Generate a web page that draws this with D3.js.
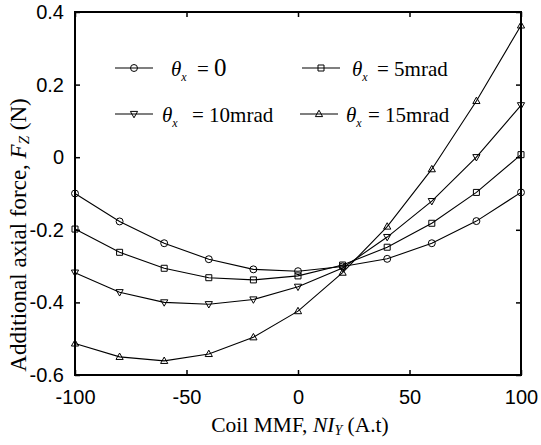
<!DOCTYPE html>
<html>
<head>
<meta charset="utf-8">
<script src="https://cdn.jsdelivr.net/npm/d3@7"></script>
<style>
  html, body { margin: 0; padding: 0; background: #fff; }
  svg { display: block; }
  .tick text { font-family: "Liberation Sans", Arial, sans-serif; font-size: 20px; fill: #000; }
  .serif { font-family: "Liberation Serif", "Times New Roman", serif; fill: #000; }
</style>
</head>
<body>
<svg id="chart" width="541" height="445"></svg>
<script>
// Coil MMF (A.t)
const mmf = [-100, -80, -60, -40, -20, 0, 20, 40, 60, 80, 100];

// Additional axial force F_Z (N) for each tilt angle theta_x
const fz0mrad  = [-0.100, -0.177, -0.237, -0.281, -0.309, -0.314, -0.301, -0.280, -0.237, -0.176, -0.097];
const fz5mrad  = [-0.198, -0.262, -0.306, -0.332, -0.338, -0.327, -0.297, -0.248, -0.182, -0.097, 0.007];
const fz10mrad = [-0.318, -0.372, -0.400, -0.405, -0.392, -0.357, -0.305, -0.220, -0.121, 0.000, 0.143];
const fz15mrad = [-0.513, -0.550, -0.561, -0.542, -0.496, -0.424, -0.318, -0.191, -0.033, 0.155, 0.363];

const seriesLabels = ["0", "5mrad", "10mrad", "15mrad"];
const seriesMarkers = ["circle", "square", "triangleDown", "triangleUp"];

const xTicks = [-100, -50, 0, 50, 100];
const xTickLabels = ["-100", "-50", "0", "50", "100"];
const yTicks = [-0.6, -0.4, -0.2, 0, 0.2, 0.4];
const yTickLabels = ["-0.6", "-0.4", "-0.2", "0", "0.2", "0.4"];

const series = [fz0mrad, fz5mrad, fz10mrad, fz15mrad].map((vals, i) => ({
  label: seriesLabels[i],
  marker: seriesMarkers[i],
  points: mmf.map((x, j) => ({ x, y: vals[j] }))
}));

const svg = d3.select("#chart");
const L = 75, R = 521, T = 12, B = 375;

const x = d3.scaleLinear().domain([-100, 100]).range([L, R]);
const y = d3.scaleLinear().domain([-0.6, 0.4]).range([B, T]);

// marker path generators, centred at the origin
function markerPath(type) {
  switch (type) {
    case "circle": return d3.symbol(d3.symbolCircle, 38)();
    case "square": return "M-3,-3H3V3H-3Z";
    case "triangleUp": return "M0,-3.8L3.6,2.6H-3.6Z";
    case "triangleDown": return "M0,3.8L3.6,-2.6H-3.6Z";
  }
}

// axes with inward ticks on all four sides
const fmtX = d => xTickLabels[xTicks.indexOf(d)];
const fmtY = d => yTickLabels[yTicks.indexOf(d)];
const axBottom = svg.append("g").attr("transform", `translate(0,${B})`)
  .call(d3.axisBottom(x).tickValues(xTicks).tickSize(-5).tickPadding(15).tickFormat(fmtX));
const axTop = svg.append("g").attr("transform", `translate(0,${T})`)
  .call(d3.axisTop(x).tickValues(xTicks).tickSize(-5).tickFormat(""));
const axLeft = svg.append("g").attr("transform", `translate(${L},0)`)
  .call(d3.axisLeft(y).tickValues(yTicks).tickSize(-5).tickPadding(11).tickFormat(fmtY));
const axRight = svg.append("g").attr("transform", `translate(${R},0)`)
  .call(d3.axisRight(y).tickValues(yTicks).tickSize(-5).tickFormat(""));
[axBottom, axTop, axLeft, axRight].forEach(g => {
  g.select(".domain").remove();
  g.selectAll(".tick line").attr("stroke", "#000").attr("stroke-width", 1.5);
});
axBottom.selectAll(".tick text").attr("dy", "0.71em");

// plot box
svg.append("rect")
  .attr("x", L).attr("y", T).attr("width", R - L).attr("height", B - T)
  .attr("fill", "none").attr("stroke", "#000").attr("stroke-width", 2);

// data lines and markers
const line = d3.line().x(d => x(d.x)).y(d => y(d.y));
const sg = svg.append("g").selectAll("g").data(series).join("g");
sg.append("path")
  .attr("d", d => line(d.points))
  .attr("fill", "none").attr("stroke", "#000").attr("stroke-width", 1.1);
sg.each(function (s) {
  d3.select(this).selectAll("path.mk").data(s.points).join("path")
    .attr("class", "mk")
    .attr("d", markerPath(s.marker))
    .attr("transform", d => `translate(${x(d.x)},${y(d.y)})`)
    .attr("fill", "none").attr("stroke", "#000").attr("stroke-width", 1);
});

// legend: two columns, two rows
const legendLayout = [
  { lx: 115, ly: 68,  tx: 171, eqx: 197, big: true },
  { lx: 302, ly: 68,  tx: 352, eqx: 377 },
  { lx: 115, ly: 114, tx: 162, eqx: 192 },
  { lx: 300, ly: 114, tx: 346, eqx: 368 }
];
series.forEach((s, i) => {
  const p = legendLayout[i];
  const g = svg.append("g");
  g.append("line").attr("x1", p.lx).attr("x2", p.lx + 38).attr("y1", p.ly).attr("y2", p.ly)
    .attr("stroke", "#000").attr("stroke-width", 1.1);
  g.append("path").attr("d", markerPath(s.marker))
    .attr("transform", `translate(${p.lx + 19},${p.ly})`)
    .attr("fill", "none").attr("stroke", "#000").attr("stroke-width", 1);
  const t = g.append("text").attr("class", "serif").attr("y", p.ly + 8).attr("font-size", 21);
  t.append("tspan").attr("x", p.tx).attr("font-style", "italic").text("θ");
  t.append("tspan").attr("font-style", "italic").attr("font-size", 12).attr("dy", 5).text("x");
  t.append("tspan").attr("x", p.eqx).attr("dy", -5).text("= ");
  t.append("tspan").attr("font-size", p.big ? 25 : 21).text(s.label);
});

// axis titles
const xt = svg.append("text").attr("class", "serif").attr("font-size", 21.5)
  .attr("x", (L + R) / 2 + 2).attr("y", 432).attr("text-anchor", "middle");
xt.append("tspan").text("Coil MMF, ");
xt.append("tspan").attr("font-style", "italic").text("NI");
xt.append("tspan").attr("font-style", "italic").attr("font-size", 14).attr("dy", 3).text("Y");
xt.append("tspan").attr("dy", -3).text(" (A.t)");

const yt = svg.append("text").attr("class", "serif").attr("font-size", 23)
  .attr("transform", "translate(26,235) rotate(-90)").attr("text-anchor", "middle");
yt.append("tspan").text("Additional axial force, ");
yt.append("tspan").attr("font-style", "italic").text("F");
yt.append("tspan").attr("font-style", "italic").attr("font-size", 15).attr("dy", 3).text("Z");
yt.append("tspan").attr("dy", -3).text(" (N)");
</script>
</body>
</html>
